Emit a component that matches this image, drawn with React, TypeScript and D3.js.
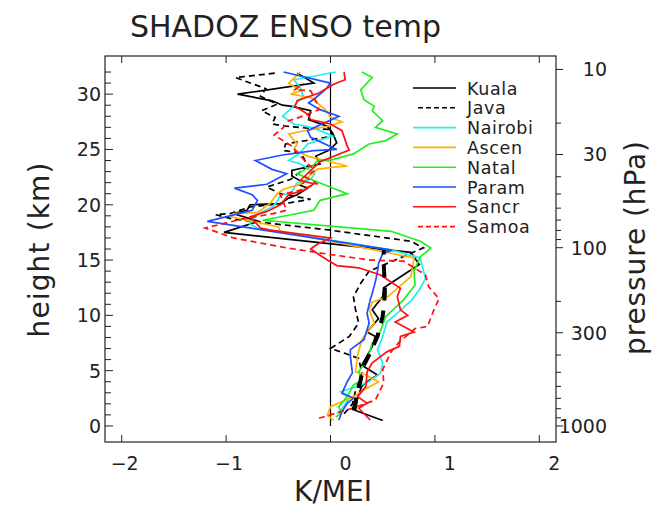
import React from "react";
import * as d3 from "d3";

// station names, colours and dash styles (legend order)
const stations = ["Kuala", "Java", "Nairobi", "Ascen", "Natal", "Param", "Sancr", "Samoa"];
const stationColors = ["#000000", "#000000", "#22eeee", "#ffb000", "#22ee22", "#1f4fff", "#ff1010", "#ff1010"];
const stationDashed = [false, true, false, false, false, false, false, true];

// [K/MEI, height km]
const kuala = [[0.50,0.5],[0.24,1.4],[0.26,2.6],[0.30,3.6],[0.35,4.0],[0.45,4.6],[0.30,5.5],[0.40,7.2],[0.43,8.1],[0.35,8.5],[0.46,9.7],[0.40,10.5],[0.50,11.7],[0.51,12.5],[0.85,14.6],[0.77,15.7],[-1.02,17.5],[-0.69,18.5],[-0.93,19.2],[-0.80,19.5],[-0.77,20.0],[-0.48,20.1],[-0.40,20.6],[-0.32,20.9],[-0.22,21.5],[-0.30,21.8],[-0.26,22.0],[-0.37,22.6],[-0.37,23.1],[-0.18,23.5],[-0.10,23.7],[-0.14,24.4],[-0.02,24.9],[0.06,25.6],[0.02,26.5],[-0.03,27.1],[-0.21,27.7],[-0.19,28.5],[-0.37,28.9],[-0.46,29.0],[-0.56,29.4],[-0.89,30.0],[-0.16,31.0],[-0.32,31.9]];
const java = [[0.13,1.1],[0.21,2.0],[0.24,3.2],[0.30,4.8],[0.27,6.1],[0.13,6.6],[0.0,7.0],[0.18,8.1],[0.27,9.3],[0.24,10.5],[0.22,11.7],[0.29,12.9],[0.37,14.0],[0.89,16.1],[0.77,16.7],[0.0,17.7],[-0.93,18.7],[-1.10,19.1],[-0.96,19.2],[-0.77,19.8],[-0.38,20.2],[-0.19,20.5],[-0.48,21.0],[-0.61,21.6],[-0.38,22.3],[-0.22,23.5],[-0.26,24.3],[-0.30,24.7],[-0.45,24.9],[-0.43,25.5],[0.02,26.2],[0.0,26.8],[-0.19,26.9],[-0.42,27.1],[-0.56,27.3],[-0.53,27.9],[-0.66,28.5],[-0.51,29.1],[-0.67,29.8],[-0.62,30.5],[-0.91,31.5],[-0.53,31.9]];
const nairobi = [[0.06,1.15],[0.10,1.45],[0.16,2.2],[0.19,2.65],[0.10,3.1],[0.35,3.9],[0.48,4.8],[0.50,5.7],[0.45,6.9],[0.50,8.1],[0.54,9.4],[0.64,10.2],[0.78,11.4],[0.85,12.3],[0.91,13.35],[0.88,14.4],[0.86,15.2],[0.59,15.9],[-0.70,17.9],[-0.78,18.3],[-0.69,19.2],[-0.56,19.8],[-0.51,20.3],[-0.48,20.9],[-0.38,21.0],[-0.32,22.0],[-0.19,22.3],[-0.15,22.8],[-0.19,23.1],[-0.29,23.7],[-0.40,24.0],[-0.29,24.7],[-0.22,25.5],[0.02,26.2],[-0.10,26.7],[-0.18,27.0],[-0.35,27.3],[-0.46,28.0],[-0.32,29.2],[-0.26,29.8],[-0.29,30.6],[-0.35,31.3],[0.05,32.0]];
const ascen = [[0.03,0.5],[-0.03,1.0],[0.0,1.75],[0.22,2.65],[0.32,3.25],[0.46,4.0],[0.32,4.7],[0.24,4.9],[0.26,6.4],[0.30,7.8],[0.42,9.3],[0.37,10.5],[0.40,11.2],[0.55,11.7],[0.64,12.45],[0.77,13.5],[0.80,15.2],[-0.48,17.6],[-0.50,18.0],[-0.95,18.9],[-0.93,19.2],[-0.70,19.3],[-0.58,20.1],[-0.51,21.0],[-0.45,21.4],[-0.29,21.85],[-0.13,23.2],[0.03,23.4],[0.16,23.5],[-0.22,24.4],[-0.35,25.0],[-0.32,25.5],[-0.40,26.4],[-0.03,27.1],[0.11,27.5],[0.0,27.9],[-0.05,28.6],[-0.19,29.7],[-0.38,30.0],[-0.29,30.3],[-0.40,31.0],[-0.29,32.0]];
const natal = [[0.05,0.8],[0.10,1.15],[0.08,1.75],[0.16,2.65],[0.22,3.7],[0.30,4.2],[0.27,4.9],[0.35,6.0],[0.40,7.5],[0.46,8.1],[0.53,9.9],[0.70,11.4],[0.81,12.75],[0.80,14.0],[0.86,15.3],[0.94,15.9],[0.96,16.1],[0.86,16.7],[0.58,17.6],[-0.65,18.6],[-0.16,19.5],[-0.10,20.4],[0.16,21.0],[-0.16,22.2],[-0.32,22.8],[-0.16,23.6],[-0.13,23.95],[0.03,24.1],[0.22,24.6],[0.37,25.5],[0.53,25.8],[0.64,26.4],[0.43,27.0],[0.50,27.6],[0.40,28.5],[0.42,28.9],[0.32,29.5],[0.29,30.4],[0.40,31.5],[0.30,32.0]];
const param = [[0.08,0.54],[0.11,1.3],[0.16,2.05],[0.22,2.5],[0.11,2.95],[0.16,4.0],[0.21,4.8],[0.19,6.3],[0.19,6.9],[0.32,7.8],[0.37,9.3],[0.35,10.2],[0.38,11.4],[0.40,12.0],[0.43,13.05],[0.45,14.0],[0.46,14.7],[0.50,15.6],[0.59,15.9],[-1.18,18.5],[-0.75,19.5],[-0.70,20.4],[-0.75,20.9],[-0.92,21.5],[-0.61,21.85],[-0.42,22.8],[-0.56,23.2],[-0.72,24.0],[-0.46,24.5],[-0.16,24.9],[0.06,25.0],[-0.19,26.1],[-0.22,26.7],[0.08,28.0],[-0.10,28.6],[-0.21,29.2],[-0.14,29.7],[-0.05,30.4],[0.0,31.0],[-0.45,32.0]];
const sancr = [[0.38,0.54],[0.27,1.6],[0.35,2.05],[0.26,2.65],[0.34,3.6],[0.35,4.9],[0.40,5.7],[0.54,6.7],[0.66,7.2],[0.67,8.1],[0.80,8.5],[0.62,9.4],[0.74,10.0],[0.67,10.5],[0.64,11.7],[0.67,12.45],[0.48,13.65],[0.27,14.3],[0.06,14.5],[-0.03,15.0],[-0.19,16.0],[-0.13,16.4],[0.0,17.0],[-0.58,17.7],[-0.67,17.9],[-0.77,18.9],[-0.61,19.4],[-0.48,20.0],[-0.40,20.9],[-0.26,21.3],[-0.16,21.9],[-0.29,22.2],[-0.10,23.9],[0.18,24.95],[0.16,25.3],[0.11,26.7],[0.0,27.3],[-0.19,27.7],[-0.22,28.2],[-0.34,28.9],[-0.32,29.4],[-0.11,30.1],[0.03,30.9],[0.14,31.3],[0.13,32.0]];
const samoa = [[-0.11,0.7],[0.05,1.15],[0.21,1.6],[0.43,2.35],[0.51,3.9],[0.50,5.1],[0.58,6.7],[0.66,7.6],[0.81,8.8],[0.93,9.0],[0.99,10.5],[1.04,11.5],[0.94,12.6],[0.91,13.65],[0.70,14.9],[0.38,15.0],[0.0,15.5],[-0.42,16.1],[-0.93,17.0],[-1.20,17.9],[-0.85,18.7],[-0.55,19.2],[-0.42,19.5],[-0.46,20.4],[-0.48,20.9],[-0.30,21.3],[-0.13,21.9],[-0.24,22.5],[-0.15,23.1],[-0.22,23.75],[-0.30,24.5],[-0.37,25.3],[-0.54,26.3],[-0.45,27.0],[-0.40,27.6],[-0.30,27.9],[-0.11,28.6],[-0.13,29.2],[-0.19,30.3],[-0.34,30.4],[-0.26,31.0]];
const stationData = [kuala, java, nairobi, ascen, natal, param, sancr, samoa];

// thick dashed trend line
const trend = [[0.22,1.4],[0.25,2.6],[0.29,4.2],[0.32,5.5],[0.38,6.6],[0.45,8.1],[0.47,8.9],[0.50,9.9],[0.52,11.8],[0.52,12.7],[0.51,14.6],[0.51,15.9]];

// axes
const xTicks = [-2, -1, 0, 1, 2];
const heightTicks = d3.range(0, 33);
const heightLabels = [0, 5, 10, 15, 20, 25, 30];
const pressureTicks = [10, 20, 30, 40, 50, 60, 70, 80, 90, 100, 200, 300, 400, 500, 600, 700, 800, 900, 1000];
const pressureLabels = [10, 30, 100, 300, 1000];
const scaleHeight = 7; // km

const font = "DejaVu Sans";

export default function App() {
  const left = 105, right = 556, top = 56, bottom = 442;
  const x = d3.scaleLinear().domain([-2.16, 2.16]).range([left, right]);
  const y = d3.scaleLinear().domain([-1.45, 33.45]).range([bottom, top]);
  const yP = d3.scaleLog().domain([1000, 10])
    .range([y(0), y(scaleHeight * Math.log(100))]);

  const line = d3.line<number[]>().x(d => x(d[0])).y(d => y(d[1]));

  return (
    <svg width={660} height={508} style={{ position: "absolute", left: 0, top: 0, background: "#fff" }}>
      <text x={130} y={37} fontFamily={font} fontSize={30} fill="#222">SHADOZ ENSO temp</text>

      {/* zero line */}
      <line x1={x(0)} x2={x(0)} y1={y(0)} y2={y(32)} stroke="#000" strokeWidth={1.2} />

      {stationData.map((d, i) => (
        <path key={stations[i]} d={line(d) || ""} fill="none" stroke={stationColors[i]}
          strokeWidth={1.7} strokeDasharray={stationDashed[i] ? "6,4" : undefined} />
      ))}
      <path d={line(trend) || ""} fill="none" stroke="#000" strokeWidth={4} strokeDasharray="13,10" />

      {/* frame */}
      <rect x={left} y={top} width={right - left} height={bottom - top} fill="none" stroke="#222" strokeWidth={1.2} />

      {xTicks.map(t => (
        <g key={"x" + t}>
          <line x1={x(t)} x2={x(t)} y1={bottom} y2={bottom - 7} stroke="#222" />
          <line x1={x(t)} x2={x(t)} y1={top} y2={top + 7} stroke="#222" />
          <text x={x(t) + (t < 0 ? 3 : 15)} y={470} textAnchor="middle" fontFamily={font} fontSize={19} fill="#222">
            {t < 0 ? "\u2212" + Math.abs(t) : t}
          </text>
        </g>
      ))}

      {heightTicks.map(t => (
        <line key={"h" + t} x1={left} x2={left + (t % 5 === 0 ? 8 : 6)} y1={y(t)} y2={y(t)} stroke="#222" />
      ))}
      {heightLabels.map(t => (
        <text key={"hl" + t} x={101} y={y(t) + 7} textAnchor="end" fontFamily={font} fontSize={19} fill="#222">{t}</text>
      ))}

      {pressureTicks.map(p => (
        <line key={"p" + p} x1={right} x2={right + (pressureLabels.includes(p) ? 7 : 5)} y1={yP(p)} y2={yP(p)} stroke="#222" />
      ))}
      {pressureLabels.map(p => (
        <text key={"pl" + p} x={607} y={yP(p) + 7} textAnchor="end" fontFamily={font} fontSize={19} fill="#222">{p}</text>
      ))}

      {/* legend */}
      {stations.map((s, i) => {
        const ly = 88 + i * 19.8;
        return (
          <g key={"lg" + s}>
            <line x1={stationDashed[i] ? 418 : 413} x2={456} y1={ly} y2={ly} stroke={stationColors[i]}
              strokeWidth={1.6} strokeDasharray={stationDashed[i] ? "5,3" : undefined} />
            <text x={467} y={ly + 6.5} fontFamily={font} fontSize={17.5} letterSpacing={0.6} fill="#222">{s}</text>
          </g>
        );
      })}

      <text x={333} y={501} textAnchor="middle" fontFamily={font} fontSize={28} fill="#222">K/MEI</text>
      <text transform="translate(49,250) rotate(-90)" textAnchor="middle" fontFamily={font} fontSize={28}
        fill="#222" textLength={175} lengthAdjust="spacing">height (km)</text>
      <text transform="translate(645,248) rotate(-90)" textAnchor="middle" fontFamily={font} fontSize={28}
        fill="#222" textLength={214} lengthAdjust="spacing">pressure (hPa)</text>
    </svg>
  );
}
